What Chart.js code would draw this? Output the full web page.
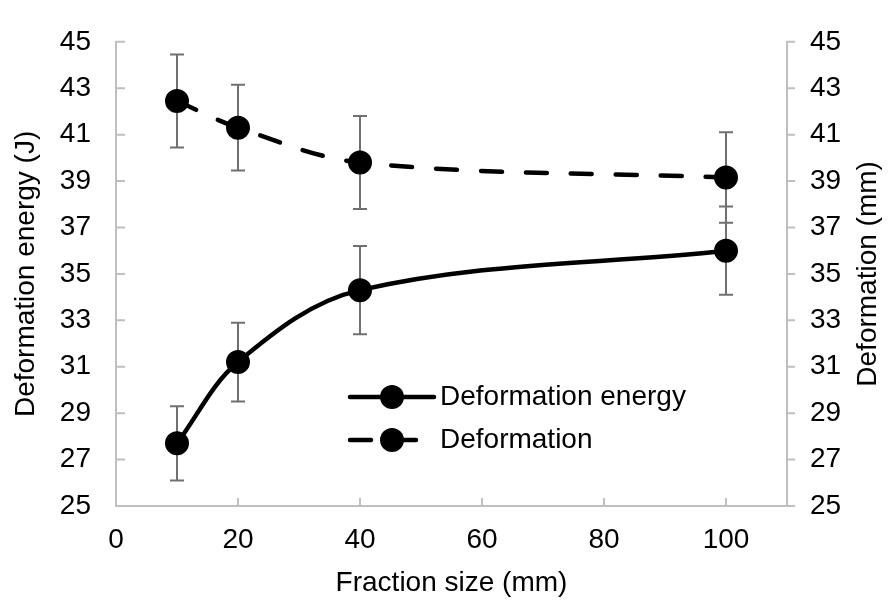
<!DOCTYPE html>
<html>
<head>
<meta charset="utf-8">
<script src="https://cdn.jsdelivr.net/npm/chart.js@4.4.1/dist/chart.umd.min.js"></script>
<style>
  html, body { margin: 0; padding: 0; background: #fff; }
  #wrap { width: 889px; height: 602px; }
</style>
</head>
<body>
<div id="wrap"><canvas id="chart"></canvas></div>
<script>
const fractionSizes = [10, 20, 40, 100];
const energyValues = [27.7, 31.2, 34.3, 36.0];
const energyErrors = [1.6, 1.7, 1.9, 1.9];
const deformationValues = [42.45, 41.3, 39.8, 39.15];
const deformationErrors = [2.0, 1.85, 2.0, 1.95];
const xTicks = [0, 20, 40, 60, 80, 100];
const yTicks = [25, 27, 29, 31, 33, 35, 37, 39, 41, 43, 45];

const fontFamily = '"Liberation Sans", Arial, sans-serif';
const axisGrey = '#bfbfbf';
const textSize = 28;

Chart.defaults.font.family = fontFamily;
Chart.defaults.color = '#000';

const toPoints = (xs, ys) => xs.map((x, i) => ({ x, y: ys[i] }));

// grey error bars, drawn under the lines and markers
const errorBars = {
  id: 'errorBars',
  beforeDatasetsDraw(chart) {
    const ctx = chart.ctx;
    const xScale = chart.scales.x;
    ctx.save();
    ctx.strokeStyle = '#707070';
    ctx.lineWidth = 2;
    chart.data.datasets.forEach(ds => {
      const yScale = chart.scales[ds.yAxisID];
      ds.data.forEach((pt, j) => {
        const x = xScale.getPixelForValue(pt.x);
        const top = yScale.getPixelForValue(pt.y + ds.errors[j]);
        const bot = yScale.getPixelForValue(pt.y - ds.errors[j]);
        ctx.beginPath();
        ctx.moveTo(x, top);
        ctx.lineTo(x, bot);
        ctx.moveTo(x - 7, top);
        ctx.lineTo(x + 7, top);
        ctx.moveTo(x - 7, bot);
        ctx.lineTo(x + 7, bot);
        ctx.stroke();
      });
    });
    ctx.restore();
  }
};

// Excel style tick marks: inside on left and bottom, outside on right
const tickMarks = {
  id: 'tickMarks',
  beforeDatasetsDraw(chart) {
    const { ctx, chartArea, scales } = chart;
    ctx.save();
    ctx.strokeStyle = axisGrey;
    ctx.lineWidth = 2;
    ctx.beginPath();
    scales.x.ticks.forEach(t => {
      const px = scales.x.getPixelForValue(t.value);
      ctx.moveTo(px, chartArea.bottom);
      ctx.lineTo(px, chartArea.bottom - 8);
    });
    scales.y.ticks.forEach(t => {
      const py = scales.y.getPixelForValue(t.value);
      ctx.moveTo(chartArea.left, py);
      ctx.lineTo(chartArea.left + 9, py);
    });
    scales.y2.ticks.forEach(t => {
      const py = scales.y2.getPixelForValue(t.value);
      ctx.moveTo(chartArea.right, py);
      ctx.lineTo(chartArea.right + 8, py);
    });
    ctx.stroke();
    ctx.restore();
  }
};

// legend inside the plot and the right axis title (reads bottom to top)
const extras = {
  id: 'extras',
  afterDraw(chart) {
    const { ctx, chartArea } = chart;
    ctx.save();
    const sx = chartArea.left + 234;
    const rows = [chartArea.bottom - 109, chartArea.bottom - 66];
    chart.data.datasets.forEach((ds, i) => {
      const y = rows[i];
      ctx.strokeStyle = '#000';
      ctx.lineWidth = ds.borderWidth;
      ctx.lineCap = 'round';
      ctx.setLineDash(ds.borderDash || []);
      ctx.beginPath();
      ctx.moveTo(sx, y);
      ctx.lineTo(sx + 84, y);
      ctx.stroke();
      ctx.setLineDash([]);
      ctx.fillStyle = '#000';
      ctx.beginPath();
      ctx.arc(sx + 42, y, 12, 0, Math.PI * 2);
      ctx.fill();
      ctx.font = textSize + 'px ' + fontFamily;
      ctx.textAlign = 'left';
      ctx.textBaseline = 'middle';
      ctx.fillText(ds.label, sx + 90, y);
    });

    ctx.translate(chart.width - 21, (chartArea.top + chartArea.bottom) / 2);
    ctx.rotate(-Math.PI / 2);
    ctx.font = textSize + 'px ' + fontFamily;
    ctx.textAlign = 'center';
    ctx.textBaseline = 'middle';
    ctx.fillText('Deformation (mm)', 0, 0);
    ctx.restore();
  }
};

const yAxis = (position, width, padding) => ({
  type: 'linear',
  position,
  min: 25,
  max: 45,
  afterBuildTicks: s => { s.ticks = yTicks.map(v => ({ value: v })); },
  afterFit: s => { s.width = width; },
  grid: { display: false, drawTicks: false },
  border: { color: axisGrey, width: 2 },
  ticks: { font: { size: textSize }, color: '#000', padding }
});

const leftAxis = yAxis('left', 116, 25);
leftAxis.title = {
  display: true,
  text: 'Deformation energy (J)',
  font: { size: textSize },
  color: '#000',
  padding: { top: 9, bottom: 0 }
};
const rightAxis = yAxis('right', 102, 23);

new Chart(document.getElementById('chart'), {
  type: 'line',
  data: {
    datasets: [
      {
        label: 'Deformation energy',
        data: toPoints(fractionSizes, energyValues),
        errors: energyErrors,
        yAxisID: 'y',
        borderColor: '#000',
        borderWidth: 4.5,
        borderCapStyle: 'round',
        tension: 0.35,
        pointRadius: 11,
        pointBorderWidth: 2,
        pointBackgroundColor: '#000',
        pointBorderColor: '#000'
      },
      {
        label: 'Deformation',
        data: toPoints(fractionSizes, deformationValues),
        errors: deformationErrors,
        yAxisID: 'y2',
        borderColor: '#000',
        borderWidth: 4.5,
        borderDash: [21, 24],
        borderCapStyle: 'round',
        tension: 0.35,
        pointRadius: 11,
        pointBorderWidth: 2,
        pointBackgroundColor: '#000',
        pointBorderColor: '#000'
      }
    ]
  },
  options: {
    responsive: true,
    maintainAspectRatio: false,
    animation: false,
    events: [],
    layout: { padding: { top: 24, left: 0, right: 0, bottom: 0 } },
    plugins: {
      legend: { display: false },
      tooltip: { enabled: false }
    },
    scales: {
      x: {
        type: 'linear',
        min: 0,
        max: 110,
        afterBuildTicks: s => { s.ticks = xTicks.map(v => ({ value: v })); },
        afterFit: s => { s.height = 96; },
        grid: { display: false, drawTicks: false },
        border: { color: axisGrey, width: 2 },
        ticks: { font: { size: textSize }, color: '#000', padding: 17, maxRotation: 0 },
        title: {
          display: true,
          text: 'Fraction size (mm)',
          font: { size: textSize },
          color: '#000',
          padding: { top: 0, bottom: 2 }
        }
      },
      y: leftAxis,
      y2: rightAxis
    }
  },
  plugins: [errorBars, tickMarks, extras]
});
</script>
</body>
</html>
